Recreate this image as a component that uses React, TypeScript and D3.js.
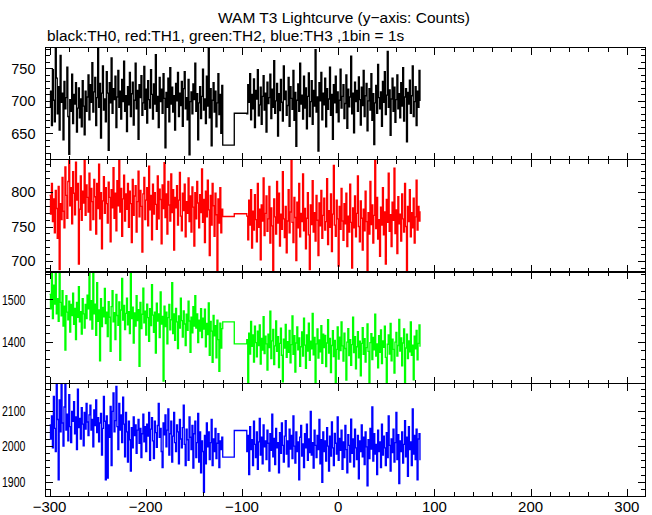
import React from 'react';
import * as d3 from 'd3';

const W = 652;
const H = 515;

// x-axis ticks / domain (seconds)
const X_DOMAIN: [number, number] = [-304.2, 319.4];
const X_MAJOR = [-300, -200, -100, 0, 100, 200, 300];
const SEG_A_START = -300;
const SEG_B_START = -95;
const GAP_X = [-120, -108];

// TH0 (black)
const th0A = [
  690, 715, 662, 748, 701, 668, 792, 735, 680, 722, 655, 770, 698, 712, 640, 730, 688, 705, 752, 676,
  618, 702, 684, 741, 665, 710, 695, 728, 652, 689, 720, 674, 703, 660, 731, 692, 648, 715, 684, 706,
  740, 671, 725, 698, 759, 683, 714, 736, 662, 705, 781, 690, 727, 643, 712, 754, 686, 703, 668, 745,
  712, 624, 728, 697, 766, 681, 719, 702, 738, 659, 706, 747, 690, 715, 672, 733, 699, 761, 684, 708,
  653, 722, 694, 744, 676, 711, 729, 663, 701, 758, 688, 716, 641, 725, 705, 739, 678, 697, 753, 687,
  718, 666, 731, 702, 689, 748, 710, 672, 726, 695, 771, 684, 707, 659, 736, 699, 718, 681, 742, 704,
  628, 713, 690, 735, 668, 751, 695, 721, 683, 708, 655, 727, 700, 744, 676, 712, 693, 730, 661, 719,
  745, 688, 705, 671, 733, 617, 699, 714, 680, 726, 702, 758, 684, 711, 640, 697, 722, 673, 707, 749,
  686, 703, 665, 738, 692, 785, 674, 719, 631, 701, 728, 683, 715, 660, 697, 742, 679, 710, 650, 724,
];
const th0Gap = [632, 681];
const th0B = [
  680, 725, 698, 742, 671, 710, 688, 734, 659, 716, 703, 748, 677, 694, 721, 664, 707, 739, 686, 712,
  652, 729, 696, 705, 741, 673, 718, 690, 762, 681, 700, 727, 646, 711, 685, 733, 698, 669, 754, 702,
  715, 678, 693, 736, 661, 722, 704, 687, 747, 670, 713, 630, 701, 726, 684, 758, 695, 709, 672, 738,
  689, 720, 657, 707, 743, 676, 699, 731, 664, 716, 692, 779, 683, 706, 623, 728, 700, 744, 671, 712,
  694, 735, 660, 719, 687, 703, 752, 678, 710, 641, 725, 697, 738, 682, 714, 668, 701, 749, 689, 707,
  725, 673, 696, 740, 658, 718, 691, 706, 769, 680, 712, 651, 729, 699, 716, 684, 737, 702, 663, 721,
  693, 747, 676, 708, 727, 654, 700, 719, 686, 742, 670, 711, 633, 697, 724, 681, 756, 705, 688, 714,
  661, 730, 698, 745, 679, 709, 776, 690, 717, 647, 703, 735, 684, 721, 667, 702, 740, 688, 711, 674,
  728, 692, 751, 669, 706, 719, 637, 713, 695, 732, 681, 708, 754, 676, 699, 722, 662, 715, 690, 747,
  700,
];

// TH1 (red)
const th1A = [
  795, 768, 812, 757, 790, 741, 802, 776, 733, 808, 688, 783, 760, 821, 772, 748, 836, 795, 762, 815,
  851, 780, 806, 754, 829, 798, 767, 843, 788, 812, 696, 775, 823, 759, 801, 784, 848, 766, 810, 792,
  771, 827, 745, 805, 786, 760, 818, 793, 739, 812, 776, 840, 761, 799, 718, 787, 822, 769, 806, 783,
  755, 814, 792, 728, 803, 777, 835, 762, 798, 744, 816, 780, 853, 771, 805, 736, 790, 824, 758, 797,
  775, 812, 749, 801, 783, 727, 818, 766, 794, 809, 742, 786, 830, 764, 802, 779, 713, 797, 821, 760,
  788, 806, 751, 837, 774, 795, 731, 811, 768, 799, 782, 746, 823, 761, 804, 789, 725, 810, 776, 842,
  763, 797, 739, 815, 781, 758, 826, 770, 803, 716, 792, 777, 809, 752, 788, 828, 765, 744, 798, 773,
  811, 735, 786, 769, 820, 757, 794, 742, 807, 778, 722, 799, 761, 815, 784, 748, 796, 770, 833, 756,
  789, 727, 801, 764, 817, 774, 708, 795, 752, 812, 780, 736, 798, 767, 679, 790, 755, 806, 741, 775,
];
const th1Gap = [764.5, 768.5];
const th1B = [
  765, 731, 788, 752, 803, 719, 772, 745, 796, 760, 728, 812, 749, 775, 702, 781, 758, 820, 737, 769,
  794, 743, 761, 808, 726, 777, 751, 682, 790, 764, 739, 815, 755, 798, 722, 768, 746, 829, 761, 734,
  779, 712, 758, 803, 741, 771, 849, 756, 727, 792, 763, 701, 785, 748, 812, 735, 769, 757, 826, 744,
  776, 718, 762, 799, 738, 688, 781, 753, 816, 742, 770, 729, 795, 759, 708, 784, 751, 802, 733, 766,
  791, 745, 757, 819, 724, 773, 749, 797, 714, 768, 838, 752, 736, 788, 761, 693, 779, 746, 805, 758,
  730, 783, 754, 798, 721, 765, 742, 811, 756, 690, 777, 748, 794, 735, 769, 823, 750, 728, 787, 762,
  716, 775, 744, 801, 757, 683, 770, 739, 815, 753, 781, 726, 766, 845, 747, 792, 732, 760, 707, 778,
  752, 806, 738, 771, 696, 789, 756, 827, 743, 767, 721, 785, 759, 834, 740, 774, 711, 793, 754, 768,
  729, 797, 761, 742, 812, 750, 686, 779, 757, 803, 735, 770, 748, 791, 726, 764, 817, 745, 779, 758,
  772,
];

// TH2 (green)
const th2A = [
  1512, 1478, 1570, 1455, 1534, 1489, 1568, 1466, 1502, 1448, 1575, 1493, 1461, 1521, 1437, 1484, 1380, 1509, 1470, 1452,
  1496, 1423, 1488, 1462, 1515, 1441, 1479, 1405, 1493, 1458, 1530, 1447, 1471, 1418, 1502, 1466, 1432, 1488, 1455, 1510,
  1478, 1569, 1452, 1497, 1430, 1571, 1466, 1489, 1415, 1540, 1448, 1475, 1355, 1502, 1436, 1481, 1459, 1526, 1443, 1470,
  1412, 1495, 1458, 1377, 1483, 1521, 1447, 1469, 1405, 1512, 1462, 1439, 1494, 1356, 1475, 1550, 1451, 1486, 1429, 1467,
  1503, 1440, 1471, 1419, 1562, 1455, 1482, 1397, 1468, 1437, 1509, 1450, 1476, 1342, 1493, 1431, 1465, 1527, 1445, 1472,
  1416, 1489, 1457, 1401, 1478, 1438, 1535, 1463, 1422, 1470, 1373, 1491, 1449, 1466, 1410, 1518, 1442, 1460, 1307, 1484,
  1436, 1470, 1395, 1457, 1488, 1428, 1452, 1540, 1419, 1466, 1403, 1479, 1447, 1384, 1461, 1432, 1503, 1450, 1411, 1473,
  1442, 1391, 1465, 1427, 1496, 1449, 1375, 1458, 1421, 1483, 1437, 1509, 1432, 1466, 1398, 1451, 1425, 1478, 1410, 1456,
  1430, 1477, 1388, 1443, 1417, 1492, 1368, 1448, 1425, 1351, 1462, 1414, 1438, 1362, 1451, 1405, 1330, 1444, 1385, 1431,
];
const th2Gap = [1447, 1395];
const th2B = [
  1405, 1298, 1420, 1371, 1448, 1389, 1416, 1352, 1437, 1398, 1364, 1425, 1391, 1440, 1347, 1408, 1380, 1459, 1372, 1413,
  1395, 1333, 1418, 1386, 1472, 1360, 1402, 1429, 1346, 1390, 1449, 1377, 1412, 1339, 1396, 1432, 1368, 1305, 1406, 1385,
  1441, 1363, 1400, 1375, 1427, 1350, 1393, 1461, 1370, 1414, 1328, 1397, 1435, 1381, 1409, 1342, 1388, 1423, 1366, 1456,
  1392, 1337, 1416, 1378, 1444, 1356, 1401, 1383, 1467, 1369, 1410, 1299, 1395, 1430, 1361, 1404, 1376, 1438, 1349, 1418,
  1386, 1415, 1341, 1397, 1452, 1373, 1408, 1327, 1391, 1426, 1365, 1403, 1302, 1382, 1435, 1359, 1411, 1379, 1447, 1390,
  1354, 1420, 1384, 1309, 1399, 1431, 1367, 1405, 1344, 1393, 1458, 1374, 1412, 1336, 1388, 1424, 1362, 1401, 1319, 1396,
  1433, 1370, 1407, 1352, 1386, 1442, 1377, 1301, 1398, 1419, 1358, 1410, 1381, 1465, 1366, 1395, 1338, 1414, 1375, 1428,
  1348, 1402, 1387, 1437, 1363, 1304, 1394, 1416, 1371, 1443, 1355, 1406, 1382, 1326, 1399, 1422, 1366, 1391, 1453, 1378,
  1409, 1343, 1397, 1430, 1301, 1385, 1418, 1360, 1402, 1376, 1447, 1368, 1392, 1310, 1413, 1383, 1427, 1357, 1396, 1440,
  1388,
];

// TH3 (blue)
const th3A = [
  2060, 2020, 2085, 1995, 2140, 2050, 1985, 2180, 2075, 1905, 2130, 2040, 2178, 2065, 2000, 2110, 2183, 2045, 2090, 2015,
  2145, 2055, 2010, 2098, 2070, 2125, 2035, 2082, 1990, 2160, 2052, 2078, 2020, 2108, 2062, 2001, 2095, 2048, 2120, 2068,
  2030, 2088, 2115, 2045, 2075, 1998, 2102, 2058, 2130, 2038, 2080, 2012, 2065, 2092, 1975, 2050, 2140, 2070, 1905, 2085,
  1910, 2060, 2025, 2112, 1945, 2098, 2150, 2040, 2072, 2168, 2055, 1990, 2120, 2045, 2088, 2010, 2138, 2062, 1970, 2095,
  2040, 1955, 2070, 2018, 1930, 2052, 1995, 2082, 2030, 2060, 1980, 2045, 2075, 2008, 2050, 1968, 2035, 2090, 2012, 2055,
  1985, 2062, 2028, 2095, 1960, 2048, 2080, 2015, 1965, 2070, 2038, 1997, 2058, 2120, 2025, 2050, 1985, 1940, 2065, 2032,
  2088, 1998, 2045, 2105, 1975, 2035, 2070, 1955, 2028, 2095, 2010, 1985, 2060, 2040, 1950, 2075, 2020, 1995, 2052, 2115,
  2005, 1945, 2048, 2018, 1960, 2082, 2025, 1990, 2058, 1938, 2035, 2070, 1968, 2010, 2092, 1955, 2040, 1925, 2015, 1985,
  1870, 2030, 1950, 2065, 1998, 2040, 1962, 2010, 2075, 1945, 2020, 1985, 2050, 1965, 2008, 2035, 1940, 2015, 1990, 2025,
];
const th3Gap = [1969, 2044];
const th3B = [
  1985, 2030, 1920, 2055, 1990, 2018, 1945, 2070, 2005, 1968, 2040, 1935, 2012, 2078, 1975, 2025, 1950, 2060, 1998, 2015,
  1962, 2045, 2008, 1930, 2035, 1988, 2090, 1970, 2022, 1948, 2050, 1995, 2010, 1925, 2038, 1980, 2065, 2002, 1955, 2028,
  2072, 1978, 2015, 1942, 2048, 1992, 2030, 1965, 2085, 2000, 1952, 2040, 1985, 2012, 1905, 2025, 2058, 1972, 2006, 1940,
  2035, 1995, 2062, 1960, 2020, 1982, 2098, 1975, 2010, 1938, 2045, 2002, 1968, 2030, 1990, 2075, 1950, 2018, 1898, 2040,
  1985, 2015, 1958, 2052, 2000, 1930, 2028, 1972, 2068, 1995, 1945, 2036, 2008, 1978, 2082, 1960, 2022, 1988, 2045, 1935,
  2012, 1968, 2058, 1990, 1925, 2032, 2002, 1955, 2076, 1980, 2020, 1942, 2048, 1995, 1962, 2030, 1908, 2015, 1985, 2060,
  1970, 2025, 1948, 2040, 1998, 1888, 2018, 1965, 2050, 1992, 2110, 1958, 2035, 1978, 2005, 1920, 2045, 1985, 2012, 1940,
  2062, 1975, 2028, 1995, 1945, 2038, 1968, 2085, 2002, 1930, 2020, 1982, 2048, 1955, 2010, 2095, 1962, 2032, 1895, 2015,
  1985, 2040, 1952, 2005, 2072, 1970, 2025, 1915, 2055, 1990, 2012, 1945, 2105, 1978, 2030, 1962, 2048, 1905, 2020, 2035,
  1960,
];

const yTicks0 = [650, 700, 750];
const yTicks1 = [700, 750, 800];
const yTicks2 = [1400, 1500];
const yTicks3 = [1900, 2000, 2100];

const TITLE = 'WAM T3 Lightcurve (y\u2212axis: Counts)';
const SUBTITLE = 'black:TH0, red:TH1, green:TH2, blue:TH3 ,1bin = 1s';

const LEFT = 45.5;
const RIGHT = 645.5;
const TOP = 47.5;
const BOTTOM = 496;

const panels = [
  { id: 'p0', color: '#000000', a: th0A, b: th0B, gap: th0Gap, domain: [609.7, 782.2], ticks: yTicks0, minor: 10 },
  { id: 'p1', color: '#ff0000', a: th1A, b: th1B, gap: th1Gap, domain: [684.8, 846.5], ticks: yTicks1, minor: 10 },
  { id: 'p2', color: '#00ff00', a: th2A, b: th2B, gap: th2Gap, domain: [1300.2, 1565.6], ticks: yTicks2, minor: 20 },
  { id: 'p3', color: '#0000ff', a: th3A, b: th3B, gap: th3Gap, domain: [1859.7, 2175.2], ticks: yTicks3, minor: 20 },
];

const FONT = '"Liberation Sans", Arial, Helvetica, sans-serif';

export default function App() {
  const x = d3.scaleLinear().domain(X_DOMAIN).range([LEFT, RIGHT]);
  const ph = (BOTTOM - TOP) / panels.length;
  const xMinor = d3.range(-300, 320, 20);

  return (
    <svg
      width={W}
      height={H}
      viewBox={`0 0 ${W} ${H}`}
      style={{ position: 'absolute', left: 0, top: 0, background: '#fff' }}
      fontFamily={FONT}
    >
      <rect x={0} y={0} width={W} height={H} fill="#fff" />
      <text x={344} y={23} textAnchor="middle" fontSize={15.5} fill="#000">{TITLE}</text>
      <text x={47} y={41} fontSize={15.4} fill="#000">{SUBTITLE}</text>
      {panels.map((p, k) => {
        const top = TOP + k * ph;
        const bot = top + ph;
        const y = d3.scaleLinear().domain(p.domain).range([bot, top]);
        const pts: [number, number][] = [
          ...p.a.map((v, i) => [SEG_A_START + i, v] as [number, number]),
          [GAP_X[0], p.gap[0]],
          [GAP_X[1], p.gap[1]],
          ...p.b.map((v, i) => [SEG_B_START + i, v] as [number, number]),
        ];
        const line = d3
          .line<[number, number]>()
          .x((d) => x(d[0]))
          .y((d) => y(d[1]))
          .curve(d3.curveStepAfter);
        const yMinor = d3.range(Math.ceil(p.domain[0] / p.minor) * p.minor, p.domain[1], p.minor);
        const isMajorY = (v: number) => p.ticks.includes(v);
        return (
          <g key={p.id}>
            <defs>
              <clipPath id={`clip-${p.id}`}>
                <rect x={LEFT} y={top} width={RIGHT - LEFT} height={ph} />
              </clipPath>
            </defs>
            <path
              d={line(pts) || ''}
              fill="none"
              stroke={p.color}
              strokeWidth={1.35}
              clipPath={`url(#clip-${p.id})`}
            />
            {/* y ticks */}
            {yMinor.map((v) => {
              const len = isMajorY(v) ? 7.7 : 4.3;
              const yy = Math.round(y(v)) + 0.5;
              return (
                <g key={`yt${v}`} stroke="#000" strokeWidth={1} shapeRendering="crispEdges">
                  <line x1={LEFT} x2={LEFT + len} y1={yy} y2={yy} />
                  <line x1={RIGHT} x2={RIGHT - len} y1={yy} y2={yy} />
                </g>
              );
            })}
            {/* x ticks */}
            {xMinor.map((v) => {
              const len = v % 100 === 0 ? 7 : 4;
              const xx = Math.round(x(v)) + 0.5;
              return (
                <g key={`xt${v}`} stroke="#000" strokeWidth={1} shapeRendering="crispEdges">
                  <line x1={xx} x2={xx} y1={top} y2={top + len} />
                  <line x1={xx} x2={xx} y1={bot} y2={bot - len} />
                </g>
              );
            })}
            {/* y labels */}
            {p.ticks.map((v) => {
              const s = String(v);
              const yy = y(v) + 5.2;
              return s.length > 3 ? (
                <text key={`yl${v}`} x={2} y={yy} fontSize={14.5} textLength={23.5} lengthAdjust="spacingAndGlyphs" fill="#000">{s}</text>
              ) : (
                <text key={`yl${v}`} x={35.5} y={yy} fontSize={14.5} textAnchor="end" fill="#000">{s}</text>
              );
            })}
          </g>
        );
      })}
      {/* frames */}
      <rect x={LEFT} y={TOP} width={RIGHT - LEFT} height={BOTTOM - TOP} fill="none" stroke="#000" strokeWidth={1} shapeRendering="crispEdges" />
      {panels.slice(1).map((p, k) => {
        const yy = TOP + (k + 1) * ph;
        return (
          <line key={`sep${k}`} x1={LEFT} x2={RIGHT} y1={yy} y2={yy} stroke="#000" strokeWidth={k === 1 ? 2 : 1} shapeRendering="crispEdges" />
        );
      })}
      {X_MAJOR.map((v) => (
        <text key={`xl${v}`} x={x(v)} y={512} fontSize={15} textAnchor="middle" fill="#000">
          {v < 0 ? `\u2212${Math.abs(v)}` : String(v)}
        </text>
      ))}
    </svg>
  );
}
